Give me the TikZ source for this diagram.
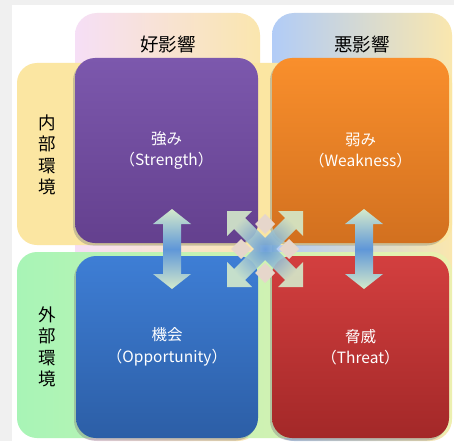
\documentclass[tikz,border=0pt]{standalone}
\usepackage{fontspec}
\setmainfont{Noto Sans CJK JP}
\usetikzlibrary{shadows,calc}
\definecolor{frame}{HTML}{F0F0F0}
\definecolor{colApink}{HTML}{F6DFF6}
\definecolor{colAyel}{HTML}{FAE6AE}
\definecolor{colBblue}{HTML}{B1CCF7}
\definecolor{colByel}{HTML}{FAE7AE}
\definecolor{rowA}{HTML}{FBE6A2}
\definecolor{rowBgreen}{HTML}{A8F4B6}
\definecolor{rowByel}{HTML}{ECF0B0}
\definecolor{purpT}{HTML}{7C58AD}
\definecolor{purpB}{HTML}{64408E}
\definecolor{oranT}{HTML}{F98F2C}
\definecolor{oranB}{HTML}{D2701F}
\definecolor{blueT}{HTML}{3E7ED5}
\definecolor{blueB}{HTML}{2C5EA6}
\definecolor{redT}{HTML}{D33F3F}
\definecolor{redB}{HTML}{A32828}
\definecolor{arrEdge}{HTML}{D4EACB}
\definecolor{arrMid}{HTML}{5F97D8}
\definecolor{diam}{HTML}{E6D6CB}
\begin{document}
\begin{tikzpicture}[x=1pt,y=-1pt,
  quadbox/.style={rounded corners=20pt, inner sep=0pt, text=white, align=center,
    font=\fontsize{15.5}{21.5}\selectfont,
    drop shadow={shadow xshift=-2pt, shadow yshift=-2.5pt, opacity=.4}},
  hdr/.style={font=\fontsize{18.5}{22}\selectfont, text=black, inner sep=0pt},
  vlab/.style={font=\fontsize{17.5}{21.5}\selectfont, text=black, align=center, inner sep=0pt},
  arrowfill/.style={top color=arrEdge, bottom color=arrEdge, middle color=arrMid}]
\useasboundingbox (0,0) rectangle (454,441);
\fill[frame] (0,0) rectangle (454,441);
\fill[white] (12,5) rectangle (454,441);
% column bands
\shade[rounded corners=22pt, left color=colApink, right color=colAyel] (75,13) rectangle (260,441);
\shade[rounded corners=22pt, left color=colBblue, right color=colByel] (272,13) rectangle (452,441);
% row bands
\fill[rowA, rounded corners=20pt] (17,63) rectangle (452,245);
\shade[rounded corners=20pt, left color=rowBgreen, right color=rowByel] (17,252) rectangle (452,438);
% labels
\node[hdr] (h1) at (168,44) {好影響};
\node[hdr] (h2) at (362,44) {悪影響};
\node[vlab] (r1) at (47,155) {内\\部\\環\\境};
\node[vlab] (r2) at (47,347) {外\\部\\環\\境};
% quadrants
\node[quadbox, top color=purpT, bottom color=purpB, minimum width=183pt, minimum height=185pt] (S) at (166.5,150.5) {強み\\（Strength）};
\node[quadbox, top color=oranT, bottom color=oranB, minimum width=177pt, minimum height=185pt] (W) at (360.5,150.5) {弱み\\（Weakness）};
\node[quadbox, top color=blueT, bottom color=blueB, minimum width=182pt, minimum height=182pt] (O) at (167,347) {機会\\（Opportunity）};
\node[quadbox, top color=redT, bottom color=redB, minimum width=177pt, minimum height=182pt] (T) at (360.5,347) {脅威\\（Threat）};
% vertical double arrows
\coordinate (aL) at (172,249);
\coordinate (aR) at (364,249);
\foreach \c in {aL,aR}{
  \shade[arrowfill, shift={(\c)}] (0,-40) -- (19,-25) -- (9,-25) -- (9,25) -- (19,25) -- (0,40)
    -- (-19,25) -- (-9,25) -- (-9,-25) -- (-19,-25) -- cycle;
}
% cross
\coordinate (X) at (265,249);
\foreach \dx/\dy in {0/-25,-24/0,24/0,0/24}{
  \fill[diam, shift={(X)}, shift={(\dx,\dy)}] (0,-10) -- (10,0) -- (0,10) -- (-10,0) -- cycle;
}
\shade[inner color=arrMid, outer color=arrEdge, shift={(X)}, opacity=.9]
  (38,-38) -- (38,-13) -- (31,-20) -- (-20,31) -- (-13,38) -- (-38,38) -- (-38,13) -- (-31,20) -- (20,-31) -- (13,-38) -- cycle
  (-38,-38) -- (-13,-38) -- (-20,-31) -- (31,20) -- (38,13) -- (38,38) -- (13,38) -- (20,31) -- (-31,-20) -- (-38,-13) -- cycle;
\end{tikzpicture}
\end{document}
